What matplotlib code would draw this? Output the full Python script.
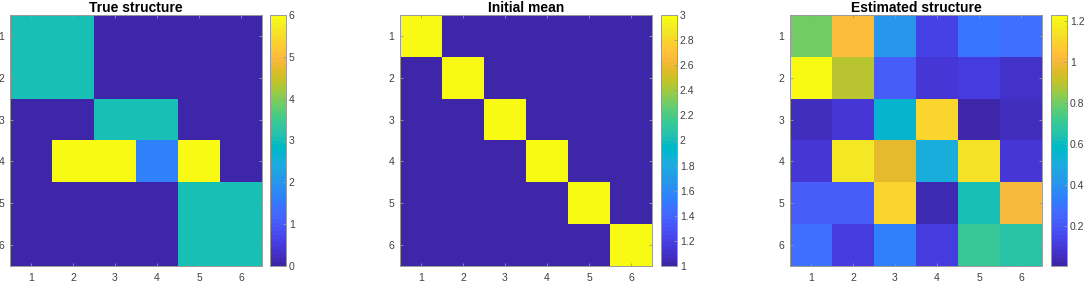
import numpy as np
import matplotlib
matplotlib.use("Agg")
import matplotlib.pyplot as plt
from matplotlib.colors import ListedColormap

# ---------------- data ----------------
rows = [1, 2, 3, 4, 5, 6]
cols = [1, 2, 3, 4, 5, 6]

true_structure = [
    [3, 3, 0, 0, 0, 0],
    [3, 3, 0, 0, 0, 0],
    [0, 0, 3, 3, 0, 0],
    [0, 6, 6, 1.6, 6, 0],
    [0, 0, 0, 0, 3, 3],
    [0, 0, 0, 0, 3, 3],
]

initial_mean = [
    [3, 1, 1, 1, 1, 1],
    [1, 3, 1, 1, 1, 1],
    [1, 1, 3, 1, 1, 1],
    [1, 1, 1, 3, 1, 1],
    [1, 1, 1, 1, 3, 1],
    [1, 1, 1, 1, 1, 3],
]

estimated_structure = [
    [0.80, 1.02, 0.42, 0.13, 0.31, 0.28],
    [1.23, 0.90, 0.23, 0.085, 0.11, 0.07],
    [0.055, 0.085, 0.56, 1.11, 0.006, 0.06],
    [0.10, 1.17, 0.97, 0.51, 1.14, 0.10],
    [0.23, 0.23, 1.11, 0.04, 0.63, 1.016],
    [0.28, 0.12, 0.34, 0.12, 0.71, 0.67],
]

titles = ["True structure", "Initial mean", "Estimated structure"]
cbar_ticks = [
    [0, 1, 2, 3, 4, 5, 6],
    [1, 1.2, 1.4, 1.6, 1.8, 2, 2.2, 2.4, 2.6, 2.8, 3],
    [0.2, 0.4, 0.6, 0.8, 1.0, 1.2],
]
cbar_ticklabels = [
    ["0", "1", "2", "3", "4", "5", "6"],
    ["1", "1.2", "1.4", "1.6", "1.8", "2", "2.2", "2.4", "2.6", "2.8", "3"],
    ["0.2", "0.4", "0.6", "0.8", "1", "1.2"],
]

# ---------------- parula colormap ----------------
parula_data = [
    [0.2422, 0.1504, 0.6603], [0.2504, 0.1650, 0.7076], [0.2578, 0.1818, 0.7511],
    [0.2647, 0.1978, 0.7952], [0.2706, 0.2147, 0.8364], [0.2751, 0.2342, 0.8710],
    [0.2783, 0.2559, 0.8991], [0.2803, 0.2782, 0.9221], [0.2813, 0.3006, 0.9414],
    [0.2810, 0.3228, 0.9579], [0.2795, 0.3447, 0.9717], [0.2760, 0.3667, 0.9829],
    [0.2699, 0.3892, 0.9906], [0.2602, 0.4123, 0.9952], [0.2440, 0.4358, 0.9988],
    [0.2206, 0.4603, 0.9973], [0.1963, 0.4847, 0.9892], [0.1834, 0.5074, 0.9798],
    [0.1786, 0.5289, 0.9682], [0.1764, 0.5499, 0.9520], [0.1687, 0.5703, 0.9359],
    [0.1540, 0.5902, 0.9218], [0.1460, 0.6091, 0.9079], [0.1380, 0.6276, 0.8973],
    [0.1248, 0.6459, 0.8883], [0.1113, 0.6635, 0.8763], [0.0952, 0.6798, 0.8598],
    [0.0689, 0.6948, 0.8394], [0.0297, 0.7082, 0.8163], [0.0036, 0.7203, 0.7917],
    [0.0067, 0.7312, 0.7660], [0.0433, 0.7411, 0.7394], [0.0964, 0.7500, 0.7120],
    [0.1408, 0.7584, 0.6842], [0.1717, 0.7670, 0.6554], [0.1938, 0.7758, 0.6251],
    [0.2161, 0.7843, 0.5923], [0.2470, 0.7918, 0.5567], [0.2906, 0.7973, 0.5188],
    [0.3406, 0.8008, 0.4789], [0.3909, 0.8029, 0.4354], [0.4456, 0.8024, 0.3909],
    [0.5044, 0.7993, 0.3480], [0.5616, 0.7942, 0.3045], [0.6174, 0.7876, 0.2612],
    [0.6720, 0.7793, 0.2227], [0.7242, 0.7698, 0.1910], [0.7738, 0.7598, 0.1646],
    [0.8203, 0.7498, 0.1535], [0.8634, 0.7406, 0.1596], [0.9035, 0.7330, 0.1774],
    [0.9393, 0.7288, 0.2100], [0.9728, 0.7298, 0.2394], [0.9956, 0.7434, 0.2371],
    [0.9970, 0.7659, 0.2199], [0.9952, 0.7893, 0.2028], [0.9892, 0.8136, 0.1885],
    [0.9786, 0.8386, 0.1766], [0.9676, 0.8639, 0.1643], [0.9610, 0.8890, 0.1537],
    [0.9597, 0.9135, 0.1423], [0.9628, 0.9373, 0.1265], [0.9691, 0.9606, 0.1064],
    [0.9769, 0.9839, 0.0805],
]
parula = ListedColormap(parula_data, name="parula")

# ---------------- figure ----------------
plt.rcParams["font.family"] = ["Liberation Sans", "DejaVu Sans"]
W, H = 1084, 281
fig = plt.figure(figsize=(W / 100, H / 100), dpi=100)

def fr(x0, x1, ytop, ybot):
    return [x0 / W, (H - ybot) / H, (x1 - x0) / W, (ybot - ytop) / H]

ax_px = [(10, 262), (400, 652), (790, 1042)]
cb_px = [(270, 286), (661, 677), (1051, 1067)]
ytop, ybot = 15, 266
datasets = [true_structure, initial_mean, estimated_structure]

tick_color = "#404040"
spine_color = "#9a9a9a"

for i in range(3):
    data = np.array(datasets[i], dtype=float)
    ax = fig.add_axes(fr(ax_px[i][0], ax_px[i][1], ytop, ybot))
    cax = fig.add_axes(fr(cb_px[i][0], cb_px[i][1], ytop, ybot))
    im = ax.imshow(data, cmap=parula, aspect="auto", interpolation="nearest",
                   extent=[cols[0] - 0.5, cols[-1] + 0.5, rows[-1] + 0.5, rows[0] - 0.5],
                   vmin=data.min(), vmax=data.max())
    ax.set_xticks(cols)
    ax.set_yticks(rows)
    ax.tick_params(direction="in", length=2.5, width=0.6, colors=spine_color,
                   labelcolor=tick_color, labelsize=7.5, top=True, right=True)
    ax.tick_params(axis="y", pad=4)
    ax.tick_params(axis="x", pad=5)
    for s in ax.spines.values():
        s.set_color(spine_color)
        s.set_linewidth(0.7)
    ax.set_title(titles[i], fontsize=10, fontweight="bold", pad=2)

    cb = fig.colorbar(im, cax=cax)
    cb.set_ticks(cbar_ticks[i])
    cb.set_ticklabels(cbar_ticklabels[i])
    cax.tick_params(direction="in", length=2.5, width=0.6, colors=spine_color,
                    labelcolor=tick_color, labelsize=7.5, pad=2)
    cb.outline.set_edgecolor(spine_color)
    cb.outline.set_linewidth(0.7)

fig.savefig("out.png", dpi=100)
